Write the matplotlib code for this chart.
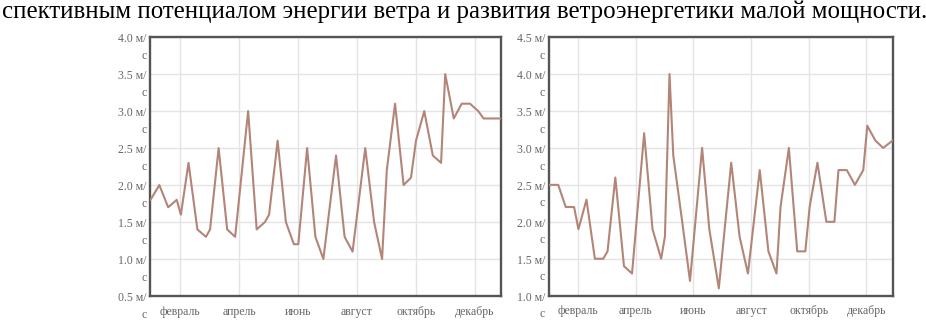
import numpy as np
import matplotlib.pyplot as plt
from matplotlib.transforms import ScaledTranslation

plt.rcParams['font.family'] = ['Liberation Serif', 'DejaVu Serif']

# x positions in months from 1 Jan (0 = январь, 1 = февраль, ...)
left_x = [0.0, 0.30, 0.60, 0.89, 1.03, 1.29, 1.59, 1.88, 2.02, 2.31, 2.60, 2.87,
          3.31, 3.60, 3.88, 4.02, 4.31, 4.59, 4.86, 5.01, 5.31, 5.59, 5.86,
          6.29, 6.58, 6.85, 7.28, 7.58, 7.85, 8.01, 8.29, 8.58, 8.83, 9.0,
          9.28, 9.57, 9.85, 9.99, 10.28, 10.55, 10.83, 11.11, 11.29, 11.88]
left_y = [1.8, 2.0, 1.7, 1.8, 1.6, 2.3, 1.4, 1.3, 1.4, 2.5, 1.4, 1.3,
          3.0, 1.4, 1.5, 1.6, 2.6, 1.5, 1.2, 1.2, 2.5, 1.3, 1.0,
          2.4, 1.3, 1.1, 2.5, 1.5, 1.0, 2.2, 3.1, 2.0, 2.1, 2.6,
          3.0, 2.4, 2.3, 3.5, 2.9, 3.1, 3.1, 3.0, 2.9, 2.9]

right_x = [0.0, 0.31, 0.57, 0.86, 1.01, 1.29, 1.58, 1.87, 2.02, 2.29, 2.59, 2.87,
           3.29, 3.58, 3.88, 4.01, 4.17, 4.30, 4.61, 4.88, 5.30, 5.55, 5.88,
           6.31, 6.60, 6.89, 7.30, 7.60, 7.88, 8.02, 8.31, 8.60, 8.88, 9.03,
           9.30, 9.61, 9.89, 10.03, 10.32, 10.60, 10.89, 11.03, 11.31, 11.58, 11.91]
right_y = [2.5, 2.5, 2.2, 2.2, 1.9, 2.3, 1.5, 1.5, 1.6, 2.6, 1.4, 1.3,
           3.2, 1.9, 1.5, 1.8, 4.0, 2.9, 2.0, 1.2, 3.0, 1.9, 1.1,
           2.8, 1.8, 1.3, 2.7, 1.6, 1.3, 2.2, 3.0, 1.6, 1.6, 2.2,
           2.8, 2.0, 2.0, 2.7, 2.7, 2.5, 2.7, 3.3, 3.1, 3.0, 3.1]

month_pos = [1, 3, 5, 7, 9, 11]
month_names = ['февраль', 'апрель', 'июнь', 'август', 'октябрь', 'декабрь']

left_ticks = [0.5, 1.0, 1.5, 2.0, 2.5, 3.0, 3.5, 4.0]
right_ticks = [1.0, 1.5, 2.0, 2.5, 3.0, 3.5, 4.0, 4.5]

caption = 'спективным потенциалом энергии ветра и развития ветроэнергетики малой мощности.'

line_color = '#b38579'
label_color = '#666666'

fig = plt.figure(figsize=(9.26, 3.2), dpi=100)
fig.text(0.002, 0.998, caption, ha='left', va='top', fontsize=17.9, color='black')


def draw(rect, x, y, yticks, xmax):
    ax = fig.add_axes(rect)
    ax.plot(x, y, color=line_color, lw=1.5, zorder=3)
    ax.set_xlim(0, xmax)
    ax.set_ylim(yticks[0], yticks[-1])
    ax.set_yticks(yticks, ['%.1f м/\nс' % t for t in yticks], linespacing=1.5)
    ax.set_xticks(month_pos, month_names)
    ax.tick_params(length=0, labelsize=8.5, labelcolor=label_color)
    ax.tick_params(axis='y', pad=3)
    ax.tick_params(axis='x', pad=7)
    # first line of each y label sits on its tick, "с" hangs below
    shift = ScaledTranslation(0, 2.8 / 72, fig.dpi_scale_trans)
    for lab in ax.get_yticklabels():
        lab.set_va('top')
        lab.set_transform(lab.get_transform() + shift)
    ax.grid(True, color='#e4e4e4', lw=1.0, zorder=0)
    for s in ax.spines.values():
        s.set_color('#555555')
        s.set_linewidth(1.7)
    return ax


draw([0.1625, 0.075, 0.3785, 0.809], left_x, left_y, left_ticks, 11.88)
draw([0.5932, 0.076, 0.3708, 0.808], right_x, right_y, right_ticks, 11.91)

fig.savefig('out.png', dpi=100)
